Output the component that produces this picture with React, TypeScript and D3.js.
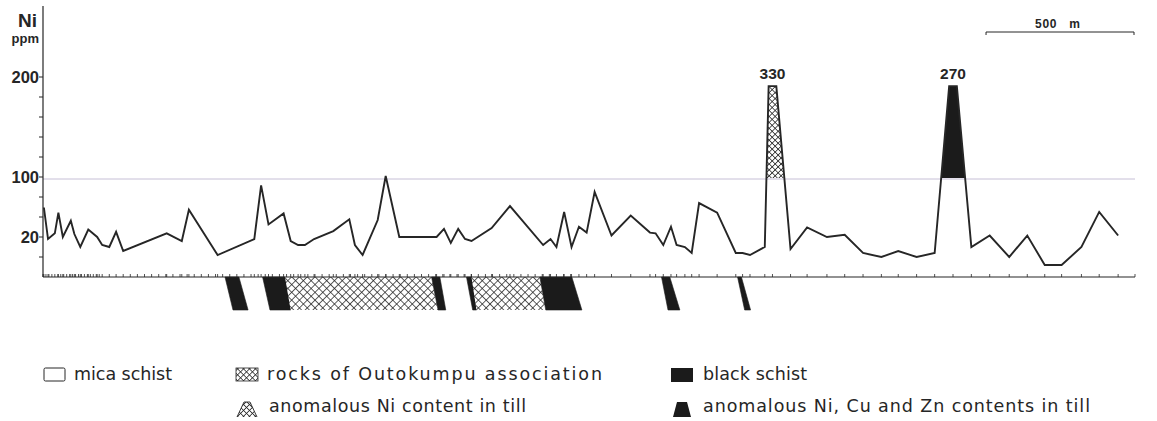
import React, { useEffect, useRef } from 'react';
import * as d3 from 'd3';

const WIDTH = 1157;
const HEIGHT = 421;

// sampling sites along the traverse (m from start) and Ni in till (ppm)
const SITE_DIST = [
  3, 17, 40, 52, 67, 94, 106, 126, 153, 183, 200, 224, 247, 271, 418, 469, 493, 590,
  714, 737, 762, 813, 837, 862, 885, 916, 981, 1035, 1054, 1080, 1131, 1158, 1204,
  1330, 1355, 1378, 1403, 1426, 1448, 1516, 1578, 1690, 1715, 1735, 1761, 1786, 1811,
  1837, 1864, 1921, 1986, 2051, 2070, 2096, 2122, 2141, 2169, 2192, 2217, 2278, 2341,
  2364, 2389, 2439, 2465, 2526, 2582, 2649, 2709, 2771, 2833, 2890, 2952, 3013, 3075,
  3137, 3199, 3265, 3326, 3385, 3442, 3509, 3569, 3633,
];
const NI_PPM = [
  60, 19, 25, 53, 20, 42, 24, 15, 30, 20, 16, 15, 27, 13, 25, 18, 57, 11,
  19, 90, 37, 52, 18, 16, 16, 19, 28, 44, 16, 11, 43, 102, 20,
  20, 31, 17, 31, 19, 18, 32, 62, 16, 19, 15, 54, 15, 34,
  26, 81, 22, 49, 26, 25, 16, 34, 16, 15, 12, 66, 53, 12,
  12, 11, 15, 330, 14, 33, 20, 23, 12, 10, 13, 10, 12, 270,
  15, 22, 10, 22, 6, 6, 15, 54, 22,
];

// anomalies that go off the scale, and which kind they are
const ANOMALY_VALUES = [330, 270];
const ANOMALY_KIND = ['ni', 'nicuzn'];

// extra sample sites (ticks only) where the profile is densely sampled
const DENSE_FROM = [0, 271];
const DENSE_TO = [200, 1790];
const DENSE_STEP = [10, 24];

// bedrock column under the profile (m): top edge and bottom edge of each unit
const UNIT_KIND = ['black', 'black', 'outokumpu', 'black', 'black', 'outokumpu', 'black', 'black', 'black'];
const UNIT_TOP_FROM = [615, 742, 818, 1313, 1431, 1448, 1679, 2090, 2347];
const UNIT_TOP_TO = [662, 818, 1313, 1341, 1448, 1679, 1787, 2118, 2360];
const UNIT_BASE_FROM = [642, 767, 837, 1335, 1452, 1465, 1699, 2112, 2371];
const UNIT_BASE_TO = [693, 837, 1335, 1361, 1465, 1699, 1821, 2152, 2391];

// y axis: 10 equal steps, three of them labelled
const Y_LABELS = ['200', '100', '20'];
const Y_LABEL_STEP = [0, 5, 8];

const LEGEND_TEXT = [
  'mica  schist',
  'rocks  of  Outokumpu  association',
  'black  schist',
  'anomalous  Ni  content  in  till',
  'anomalous  Ni,  Cu   and  Zn   contents  in  till',
];

const INK = '#262626';
const LEGEND_FONT = '"DejaVu Sans", sans-serif';
const BOLD_FONT = '"Liberation Sans", Arial, sans-serif';

export default function App() {
  const ref = useRef<SVGSVGElement>(null);

  useEffect(() => {
    const svg = d3.select(ref.current);
    svg.selectAll('*').remove();

    const x = d3.scaleLinear().domain([0, 3690]).range([43, 1135]);
    const y = d3.scaleLinear().domain([0, 20, 100, 200]).range([277, 237, 178, 77]);
    const tickPos = d3.scaleLinear().domain([0, 10]).range([y(200), y(0)]);
    const baseY = y(0);
    const columnBottom = 310;
    const CAP = 191;
    const HALF_TOP = 13;

    const defs = svg.append('defs');
    const hatch = (id: string, size: number) => {
      const p = defs.append('pattern')
        .attr('id', id)
        .attr('patternUnits', 'userSpaceOnUse')
        .attr('width', size)
        .attr('height', size)
        .attr('patternTransform', 'rotate(45)');
      p.append('rect').attr('width', size).attr('height', size).attr('fill', '#fff');
      p.append('path')
        .attr('d', `M0,0.4H${size}M0.4,0V${size}`)
        .attr('stroke', INK)
        .attr('stroke-width', 0.8);
    };
    hatch('xhatch', 5.5);
    hatch('xhatch-small', 4.2);

    defs.append('clipPath').attr('id', 'peak-band')
      .append('rect')
      .attr('x', x.range()[0])
      .attr('y', y(CAP))
      .attr('width', x.range()[1] - x.range()[0])
      .attr('height', y(100) - y(CAP));

    // 100 ppm reference line
    svg.append('line')
      .attr('x1', x.range()[0]).attr('x2', x.range()[1])
      .attr('y1', y(100) + 1).attr('y2', y(100) + 1)
      .attr('stroke', '#c6bfd6')
      .attr('stroke-width', 1);

    // bedrock column
    const poly = d3.line<[number, number]>();
    UNIT_KIND.forEach((kind, i) => {
      svg.append('path')
        .attr('d', poly([
          [x(UNIT_TOP_FROM[i]), baseY],
          [x(UNIT_TOP_TO[i]), baseY],
          [x(UNIT_BASE_TO[i]), columnBottom],
          [x(UNIT_BASE_FROM[i]), columnBottom],
        ]) + 'Z')
        .attr('fill', kind === 'black' ? '#1b1b1b' : 'url(#xhatch)')
        .attr('stroke', kind === 'black' ? '#1b1b1b' : 'none')
        .attr('stroke-width', 0.6);
    });

    // profile points; off-scale anomalies become a flat top at the cap
    const pts: [number, number][] = [];
    const peaks: { v: number; d: number; start: number }[] = [];
    SITE_DIST.forEach((d, i) => {
      const v = NI_PPM[i];
      if (v > CAP) {
        peaks.push({ v, d, start: pts.length });
        pts.push([d - HALF_TOP, CAP], [d + HALF_TOP, CAP]);
      } else {
        pts.push([d, v]);
      }
    });

    const toPx = (p: [number, number]): [number, number] => [x(p[0]), y(p[1])];

    peaks.forEach((pk) => {
      const kind = ANOMALY_KIND[ANOMALY_VALUES.indexOf(pk.v)];
      const shape = [pts[pk.start - 1], pts[pk.start], pts[pk.start + 1], pts[pk.start + 2]].map(toPx);
      svg.append('path')
        .attr('d', poly(shape) + 'Z')
        .attr('clip-path', 'url(#peak-band)')
        .attr('fill', kind === 'ni' ? 'url(#xhatch-small)' : '#1b1b1b');
      svg.append('text')
        .attr('x', x(pk.d))
        .attr('y', y(CAP) - 7)
        .attr('text-anchor', 'middle')
        .attr('font-family', BOLD_FONT)
        .attr('font-weight', 'bold')
        .attr('font-size', 15.5)
        .attr('fill', INK)
        .text(String(pk.v));
    });

    const line = d3.line<[number, number]>()
      .x((p) => x(p[0]))
      .y((p) => y(p[1]));

    svg.append('path')
      .attr('d', line(pts))
      .attr('fill', 'none')
      .attr('stroke', INK)
      .attr('stroke-width', 1.9)
      .attr('stroke-linejoin', 'miter');

    // x axis with a tick at each sampling site
    svg.append('line')
      .attr('x1', x.range()[0]).attr('x2', x.range()[1])
      .attr('y1', baseY).attr('y2', baseY)
      .attr('stroke', INK).attr('stroke-width', 1.2);

    const dense: number[] = [];
    DENSE_FROM.forEach((f, i) => dense.push(...d3.range(f, DENSE_TO[i], DENSE_STEP[i])));
    const sites = Array.from(new Set([...SITE_DIST, ...dense, x.domain()[1]]));
    svg.append('g').selectAll('line')
      .data(sites)
      .enter().append('line')
        .attr('x1', (d) => x(d)).attr('x2', (d) => x(d))
        .attr('y1', baseY).attr('y2', baseY - 3)
        .attr('stroke', INK).attr('stroke-width', 0.8);

    // y axis
    svg.append('line')
      .attr('x1', x.range()[0]).attr('x2', x.range()[0])
      .attr('y1', 6).attr('y2', baseY)
      .attr('stroke', INK).attr('stroke-width', 1.2);
    svg.append('g').selectAll('line')
      .data(d3.range(0, 10))
      .enter().append('line')
        .attr('x1', x.range()[0] - 4).attr('x2', x.range()[0])
        .attr('y1', (i) => tickPos(i)).attr('y2', (i) => tickPos(i))
        .attr('stroke', INK).attr('stroke-width', 1);
    Y_LABELS.forEach((lab, i) => {
      svg.append('text')
        .attr('x', 39)
        .attr('y', tickPos(Y_LABEL_STEP[i]) + 6)
        .attr('text-anchor', 'end')
        .attr('font-family', BOLD_FONT)
        .attr('font-weight', 'bold')
        .attr('font-size', 16.5)
        .attr('fill', INK)
        .text(lab);
    });
    svg.append('text')
      .attr('x', 37).attr('y', 27)
      .attr('text-anchor', 'end')
      .attr('font-family', BOLD_FONT).attr('font-weight', 'bold')
      .attr('font-size', 19).attr('fill', INK)
      .text('Ni');
    svg.append('text')
      .attr('x', 39).attr('y', 43)
      .attr('text-anchor', 'end')
      .attr('font-family', BOLD_FONT).attr('font-weight', 'bold')
      .attr('font-size', 13).attr('fill', INK)
      .text('ppm');

    // scale bar
    const barEnd = x.range()[1] - 1;
    const barStart = barEnd - (x(500) - x(0));
    svg.append('path')
      .attr('d', `M${barStart},35V32H${barEnd}V35`)
      .attr('fill', 'none').attr('stroke', INK).attr('stroke-width', 1);
    svg.append('text')
      .attr('x', 1035).attr('y', 28)
      .attr('textLength', 45)
      .attr('lengthAdjust', 'spacing')
      .attr('font-family', BOLD_FONT).attr('font-size', 12).attr('font-weight', 600)
      .attr('fill', INK).style('white-space', 'pre')
      .text('500   m');

    // legend
    const legend = svg.append('g')
      .attr('font-family', LEGEND_FONT)
      .attr('font-size', 17.5)
      .attr('fill', INK)
      .style('white-space', 'pre');
    const text = (s: string, tx: number, ty: number, len: number) =>
      legend.append('text')
        .attr('x', tx).attr('y', ty)
        .attr('textLength', len)
        .attr('lengthAdjust', 'spacing')
        .text(s);

    legend.append('rect').attr('x', 44).attr('y', 368).attr('width', 21).attr('height', 13)
      .attr('rx', 1.5).attr('fill', '#fff').attr('stroke', INK).attr('stroke-width', 1);
    text(LEGEND_TEXT[0], 74, 380, 98);

    legend.append('rect').attr('x', 236).attr('y', 368).attr('width', 22).attr('height', 13)
      .attr('fill', 'url(#xhatch-small)').attr('stroke', INK).attr('stroke-width', 0.8);
    text(LEGEND_TEXT[1], 267, 380, 335);

    legend.append('rect').attr('x', 671).attr('y', 368).attr('width', 22).attr('height', 14)
      .attr('fill', '#1b1b1b');
    text(LEGEND_TEXT[2], 703, 380, 104);

    legend.append('path')
      .attr('d', 'M237,417L244,402H250L257,417')
      .attr('fill', 'url(#xhatch-small)').attr('stroke', INK).attr('stroke-width', 0.9);
    text(LEGEND_TEXT[3], 269, 412, 257);

    legend.append('path')
      .attr('d', 'M673,417L677,402H687L691,417Z')
      .attr('fill', '#1b1b1b');
    text(LEGEND_TEXT[4], 703, 412, 387);
  }, []);

  return (
    <svg
      ref={ref}
      width={WIDTH}
      height={HEIGHT}
      style={{ position: 'absolute', left: 0, top: 0, background: '#fff' }}
    />
  );
}
